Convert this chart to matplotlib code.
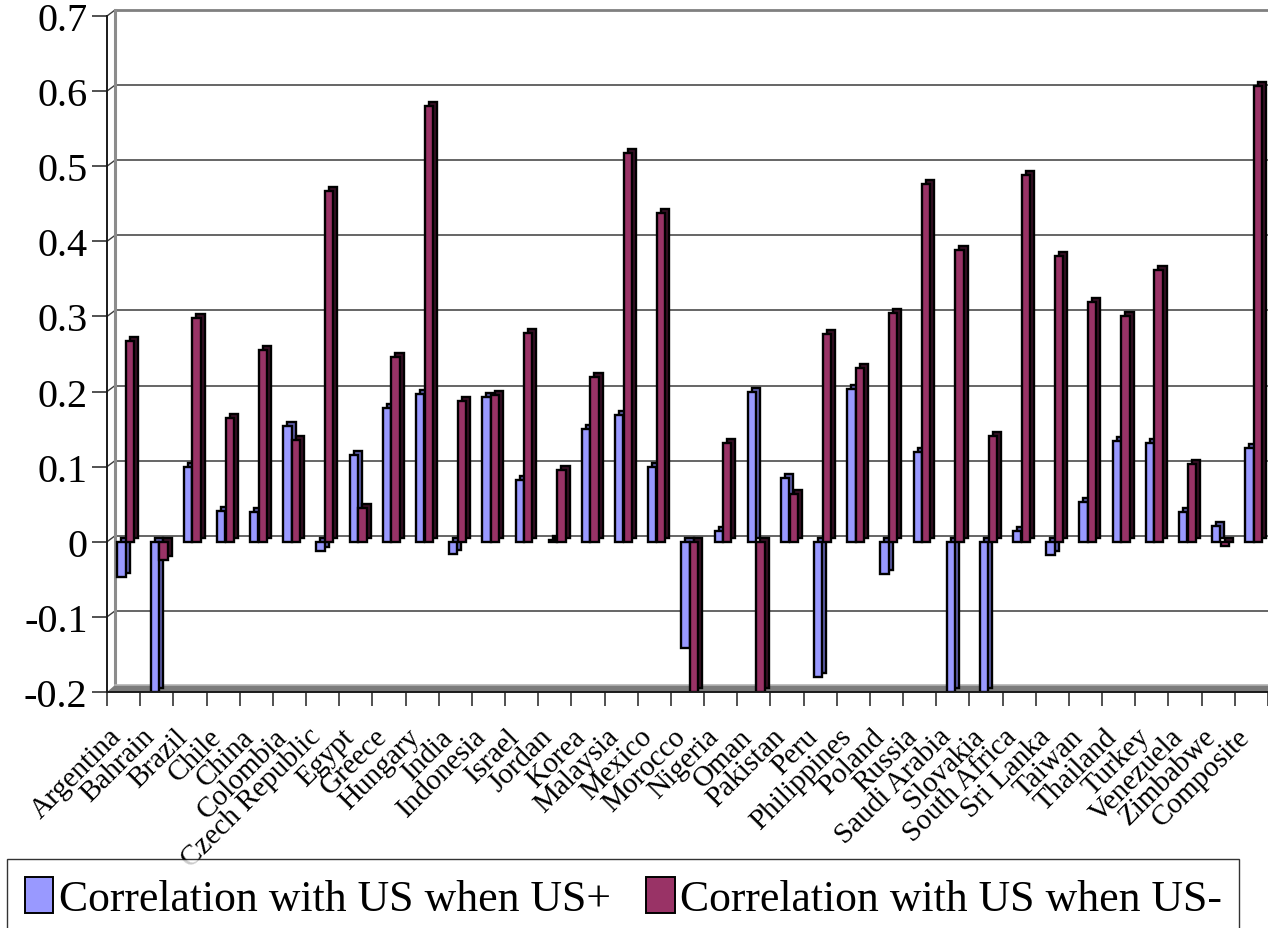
import matplotlib
matplotlib.use("Agg")
import matplotlib.pyplot as plt
import numpy as np
from matplotlib import patches, transforms

plt.rcParams["font.family"] = ["Liberation Serif", "DejaVu Serif"]

countries = [
    "Argentina", "Bahrain", "Brazil", "Chile", "China", "Colombia",
    "Czech Republic", "Egypt", "Greece", "Hungary", "India", "Indonesia",
    "Israel", "Jordan", "Korea", "Malaysia", "Mexico", "Morocco", "Nigeria",
    "Oman", "Pakistan", "Peru", "Philippines", "Poland", "Russia",
    "Saudi Arabia", "Slovakia", "South Africa", "Sri Lanka", "Taiwan",
    "Thailand", "Turkey", "Venezuela", "Zimbabwe", "Composite",
]
corr_up = [
    -0.047, -0.2, 0.100, 0.041, 0.039, 0.154,
    -0.012, 0.115, 0.178, 0.197, -0.016, 0.193,
    0.082, 0.002, 0.150, 0.169, 0.100, -0.142, 0.015,
    0.200, 0.085, -0.180, 0.204, -0.043, 0.119,
    -0.2, -0.2, 0.015, -0.017, 0.053,
    0.134, 0.131, 0.039, 0.021, 0.125,
]
corr_down = [
    0.267, -0.024, 0.298, 0.165, 0.255, 0.135,
    0.467, 0.045, 0.246, 0.580, 0.187, 0.195,
    0.278, 0.095, 0.220, 0.518, 0.438, -0.2, 0.132,
    -0.2, 0.064, 0.276, 0.231, 0.304, 0.476,
    0.388, 0.141, 0.488, 0.380, 0.319,
    0.301, 0.362, 0.103, -0.006, 0.607,
]
y_ticks = [-0.2, -0.1, 0, 0.1, 0.2, 0.3, 0.4, 0.5, 0.6, 0.7]
y_labels = ["-0.2", "-0.1", "0", "0.1", "0.2", "0.3", "0.4", "0.5", "0.6", "0.7"]
legend_labels = ["Correlation with US when US+", "Correlation with US when US-"]

BLUE, BLUE_SIDE = "#9999ff", "#6464b4"
RED, RED_SIDE = "#993366", "#3a1026"


def main():
    W, H = 1268, 929
    fig = plt.figure(figsize=(W / 100, H / 100), dpi=100)
    ax_w, ax_h = 1161, 676
    ax = fig.add_axes([107 / W, 1 - 693 / H, ax_w / W, ax_h / H])

    def shift(dx, dy):
        return transforms.ScaledTranslation(dx / 100, dy / 100, fig.dpi_scale_trans)

    x = np.arange(len(countries))
    width = 0.25
    depth = ax.transData + shift(4, 4)
    edge = dict(edgecolor="black", linewidth=1.7)

    # bars: a darker copy pushed back gives the side and top faces
    ax.bar(x - 0.06, corr_up, width, color=BLUE_SIDE, transform=depth, zorder=2, **edge)
    ax.bar(x - 0.06, corr_up, width, color=BLUE, zorder=3, **edge)
    ax.bar(x + 0.20, corr_down, width, color=RED_SIDE, transform=depth, zorder=4, **edge)
    ax.bar(x + 0.20, corr_down, width, color=RED, zorder=5, **edge)

    ymin, ymax = -0.2, 0.7
    ax.set_xlim(-0.5, -0.5 + ax_w / 33.32)
    ax.set_ylim(ymin, ymax)

    # back wall: gridlines, left edge and floor
    ox, oy = 8 / ax_w, 6 / ax_h

    def yfrac(v):
        return (v - ymin) / (ymax - ymin)

    for v in y_ticks[1:]:
        yf = yfrac(v)
        col = "#808080" if v == ymax else "#3c3c3c"
        lw = 2 if v == ymax else 1.1
        ax.plot([ox, 1.02], [yf + oy, yf + oy], transform=ax.transAxes,
                color=col, lw=lw, clip_on=False, zorder=1)
        ax.plot([0, ox], [yf, yf + oy], transform=ax.transAxes,
                color="#3c3c3c", lw=1, clip_on=False, zorder=1)
    ax.plot([ox, ox], [oy, 1 + oy], transform=ax.transAxes,
            color="#8c8c8c", lw=2.2, clip_on=False, zorder=1)
    floor = patches.Polygon([(0, 0), (ox, oy + 1 / ax_h), (1.02, oy + 1 / ax_h), (1.02, 0)],
                            closed=True, transform=ax.transAxes, facecolor="#7c7c7c",
                            edgecolor="none", clip_on=False, zorder=1)
    ax.add_patch(floor)
    ax.plot([ox, 1.02], [oy + 1 / ax_h, oy + 1 / ax_h], transform=ax.transAxes,
            color="#b4b4b4", lw=1.2, clip_on=False, zorder=1)

    for side in ("top", "right"):
        ax.spines[side].set_visible(False)
    for side in ("left", "bottom"):
        ax.spines[side].set_color("#1a1a1a")
        ax.spines[side].set_linewidth(1.4)
        ax.spines[side].set_zorder(6)

    ax.set_yticks(y_ticks)
    ax.set_yticklabels(y_labels, fontsize=29)
    ax.set_xticks(np.arange(-0.5, len(countries), 1.0))
    ax.set_xticklabels([])
    ax.tick_params(axis="y", length=11, width=1.2, color="#333333", pad=3)
    ax.tick_params(axis="x", length=10, width=1.2, color="#333333")

    lab_tr = transforms.blended_transform_factory(ax.transData, ax.transAxes)
    for i, name in enumerate(countries):
        ax.text(i - 0.46, -0.046, name, transform=lab_tr, rotation=45,
                rotation_mode="anchor", ha="right", va="top", fontsize=21)

    handles = [
        patches.Patch(facecolor=BLUE, edgecolor="black", linewidth=1.4),
        patches.Patch(facecolor=RED, edgecolor="black", linewidth=1.4),
    ]
    leg = fig.legend(handles, legend_labels, loc="upper left",
                     bbox_to_anchor=(7 / W, 1 - 860 / H), ncol=2, fontsize=31.5,
                     frameon=True, fancybox=False, edgecolor="black",
                     borderpad=0.4, borderaxespad=0, handlelength=0.66,
                     handleheight=0.9, handletextpad=0.12, columnspacing=0.8)
    leg.get_frame().set_linewidth(1.0)

    fig.savefig("out.png", dpi=100)


if __name__ == "__main__":
    main()
